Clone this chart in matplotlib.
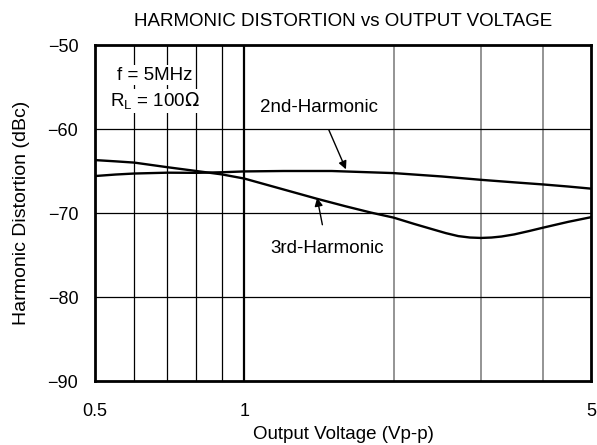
import matplotlib
matplotlib.use("Agg")
import matplotlib.pyplot as plt
from matplotlib.ticker import FixedLocator, NullLocator, FixedFormatter

plt.rcParams['font.family'] = ['Liberation Sans', 'DejaVu Sans']

# Data
x_2nd = [0.5, 0.55, 0.6, 0.7, 0.8, 0.9, 1.0, 1.2, 1.5, 2.0, 2.5, 3.0, 3.5, 4.0, 4.5, 5.0]
y_2nd = [-65.6, -65.42, -65.3, -65.2, -65.22, -65.15, -65.05, -65.0, -65.0, -65.25, -65.65, -66.05, -66.35, -66.6, -66.85, -67.1]

x_3rd = [0.5, 0.55, 0.6, 0.7, 0.8, 0.9, 1.0, 1.2, 1.4, 1.6, 1.8, 2.0, 2.2, 2.4, 2.55, 2.7, 2.85, 3.0, 3.15, 3.3, 3.5, 3.75, 4.0, 4.5, 5.0]
y_3rd = [-63.7, -63.85, -64.0, -64.55, -65.0, -65.4, -65.9, -67.2, -68.3, -69.2, -69.95, -70.55, -71.3, -71.95, -72.4, -72.75, -72.92, -72.97, -72.92, -72.8, -72.55, -72.15, -71.75, -71.05, -70.5]

x_ticks = [0.5, 1, 5]
x_tick_labels = ["0.5", "1", "5"]
y_ticks = [-90, -80, -70, -60, -50]
y_tick_labels = ["\u221290", "\u221280", "\u221270", "\u221260", "\u221250"]
fine_grid = [0.6, 0.7, 0.8, 0.9]
coarse_grid = [2, 3, 4]

fig = plt.figure(figsize=(5.97, 4.45), dpi=100)
ax = fig.add_axes([95/597, (445-381)/445, (591-95)/597, (381-45)/445])

ax.set_xscale('log')
ax.set_xlim(0.5, 5)
ax.set_ylim(-90, -50)

for gx in fine_grid:
    ax.axvline(gx, color='black', lw=0.9, zorder=1)
ax.axvline(1, color='black', lw=1.6, zorder=1)
for gx in coarse_grid:
    ax.axvline(gx, color='#777777', lw=1.1, zorder=1)
for gy in [-80, -70, -60]:
    ax.axhline(gy, color='black', lw=0.9, zorder=1)

ax.plot(x_2nd, y_2nd, color='black', lw=1.7, zorder=3, solid_joinstyle='round')
ax.plot(x_3rd, y_3rd, color='black', lw=1.7, zorder=3, solid_joinstyle='round')

ax.xaxis.set_major_locator(FixedLocator(x_ticks))
ax.xaxis.set_major_formatter(FixedFormatter(x_tick_labels))
ax.xaxis.set_minor_locator(NullLocator())
ax.set_yticks(y_ticks)
ax.set_yticklabels(y_tick_labels)
ax.tick_params(axis='both', length=0, labelsize=13)
ax.tick_params(axis='x', pad=16)
ax.tick_params(axis='y', pad=12)

for s in ax.spines.values():
    s.set_linewidth(2.0)
    s.set_zorder(5)

ax.set_xlabel("Output Voltage (Vp-p)", fontsize=13.5, labelpad=4)
ax.set_ylabel("Harmonic Distortion (dBc)", fontsize=14, labelpad=13)
ax.set_title("HARMONIC DISTORTION vs OUTPUT VOLTAGE", fontsize=13.5, pad=14)

bbox = dict(facecolor='white', edgecolor='none', pad=1)
ax.text(0.66, -53.6, "f = 5MHz", ha='center', va='center', fontsize=13.5, bbox=bbox, zorder=4)
ax.text(0.66, -56.7, r"R$_\mathregular{L}$ = 100$\Omega$", ha='center', va='center', fontsize=13.5, bbox=bbox, zorder=4)

ax.annotate("2nd-Harmonic", xy=(1.603, -64.8), xytext=(1.414, -57.4),
            ha='center', va='center', fontsize=13.5, zorder=4,
            arrowprops=dict(arrowstyle='-|>', color='black', lw=1.0, mutation_scale=12,
                            shrinkA=9, shrinkB=0))
ax.annotate("3rd-Harmonic", xy=(1.402, -68.2), xytext=(1.468, -74.2),
            ha='center', va='center', fontsize=13.5, zorder=4,
            arrowprops=dict(arrowstyle='-|>', color='black', lw=1.0, mutation_scale=12,
                            shrinkA=9, shrinkB=0))

fig.savefig("out.png", dpi=100)
